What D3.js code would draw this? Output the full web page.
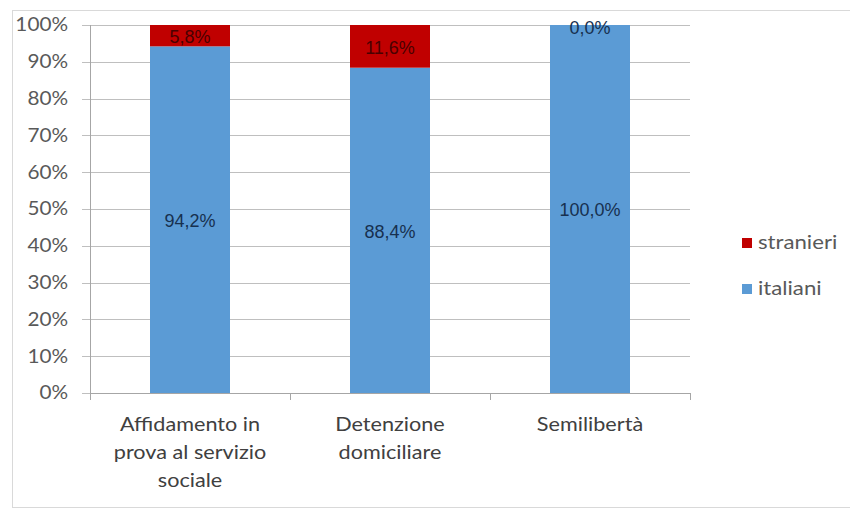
<!DOCTYPE html>
<html><head><meta charset="utf-8">
<script src="https://cdn.jsdelivr.net/npm/d3@7"></script>
<style>body{margin:0;background:#fff}svg{display:block}</style>
</head><body>
<svg id="c" width="850" height="510"></svg>
<script>
const categories = [["Affidamento in","prova al servizio","sociale"],["Detenzione","domiciliare"],["Semilibertà"]];
const italiani = [94.2, 88.4, 100.0];
const stranieri = [5.8, 11.6, 0.0];
const yTicks = [0,10,20,30,40,50,60,70,80,90,100];
const seriesNames = ["stranieri","italiani"];
const colors = {italiani:"#5b9bd5", stranieri:"#c00000"};

(function(){
const svg = d3.select("#c");
svg.append("rect").attr("x",12.5).attr("y",10.5).attr("width",850).attr("height",497).attr("fill","none").attr("stroke","#d9d9d9");

const pL=90, pR=690, pT=25, pB=393;
const x = d3.scaleBand().domain(d3.range(categories.length)).range([pL,pR]).paddingInner(0.6).paddingOuter(0.3);
const y = d3.scaleLinear().domain([0,100]).range([pB,pT]);
const font = "Lato, 'Open Sans', sans-serif";
const SX = 1.12;

svg.append("g").selectAll("line").data(yTicks).join("line")
  .attr("x1",pL-8).attr("x2",pR).attr("y1",d=>Math.round(y(d))+0.5).attr("y2",d=>Math.round(y(d))+0.5)
  .attr("stroke","#bfbfbf").attr("stroke-width",1);

svg.append("g").selectAll("text").data(yTicks).join("text")
  .attr("transform",d=>`translate(68,${y(d)}) scale(${SX},1)`).attr("dy","0.35em").attr("text-anchor","end")
  .attr("font-family",font).attr("font-size",18.5).attr("fill","#595959").text(d=>d+"%");

const stack = categories.map((c,i)=>({i, it:italiani[i], st:stranieri[i]}));
svg.append("g").selectAll("rect").data(stack).join("rect")
  .attr("x",d=>x(d.i)).attr("width",x.bandwidth())
  .attr("y",d=>y(d.it)).attr("height",d=>y(0)-y(d.it)).attr("fill",colors.italiani);
svg.append("g").selectAll("rect").data(stack).join("rect")
  .attr("x",d=>x(d.i)).attr("width",x.bandwidth())
  .attr("y",d=>y(d.it+d.st)).attr("height",d=>y(d.it)-y(d.it+d.st)).attr("fill",colors.stranieri);

svg.append("line").attr("x1",pL+0.5).attr("x2",pL+0.5).attr("y1",pT).attr("y2",pB).attr("stroke","#a6a6a6");
svg.append("line").attr("x1",pL).attr("x2",pR).attr("y1",pB+0.5).attr("y2",pB+0.5).attr("stroke","#a6a6a6");
const bounds = d3.range(categories.length+1).map(i=>pL+i*x.step());
svg.append("g").selectAll("line").data(bounds).join("line")
  .attr("x1",d=>d+0.5).attr("x2",d=>d+0.5).attr("y1",pB).attr("y2",pB+7).attr("stroke","#a6a6a6");

const fmt = v => v.toFixed(1).replace(".",",")+"%";
const lblFont = "'Liberation Sans', Arial, sans-serif";
svg.append("g").selectAll("text").data(stack).join("text")
  .attr("x",d=>x(d.i)+x.bandwidth()/2).attr("y",d=>(y(0)+y(d.it))/2+1).attr("dy","0.35em")
  .attr("text-anchor","middle").attr("font-family",lblFont).attr("font-size",18).attr("fill","#17304f")
  .text(d=>fmt(d.it));
svg.append("g").selectAll("text").data(stack).join("text")
  .attr("x",d=>x(d.i)+x.bandwidth()/2).attr("y",d=>(y(d.it)+y(d.it+d.st))/2 + (d.st===0?3:1)).attr("dy","0.35em")
  .attr("text-anchor","middle").attr("font-family",lblFont).attr("font-size",18)
  .attr("fill",d=>d.st===0?"#17304f":"#4a0000")
  .text(d=>fmt(d.st));

const cat = svg.append("g").selectAll("g").data(categories).join("g");
cat.each(function(lines,i){
  d3.select(this).selectAll("text").data(lines).join("text")
    .attr("transform",(d,j)=>`translate(${x(i)+x.bandwidth()/2},${431+j*28}) scale(${SX+0.05},1)`)
    .attr("text-anchor","middle").attr("font-family",font).attr("font-size",18.5).attr("fill","#404040")
    .text(d=>d);
});

const lg = svg.append("g").selectAll("g").data(seriesNames).join("g")
  .attr("transform",(d,i)=>`translate(742,${243+i*46})`);
lg.append("rect").attr("x",0).attr("y",-5).attr("width",10).attr("height",10).attr("fill",d=>colors[d]);
lg.append("text").attr("transform","translate(16,0) scale(1.2,1)").attr("dy","0.35em").attr("font-family",font).attr("font-size",18.5)
  .attr("fill","#595959").text(d=>d);
})();
</script>
</body></html>
